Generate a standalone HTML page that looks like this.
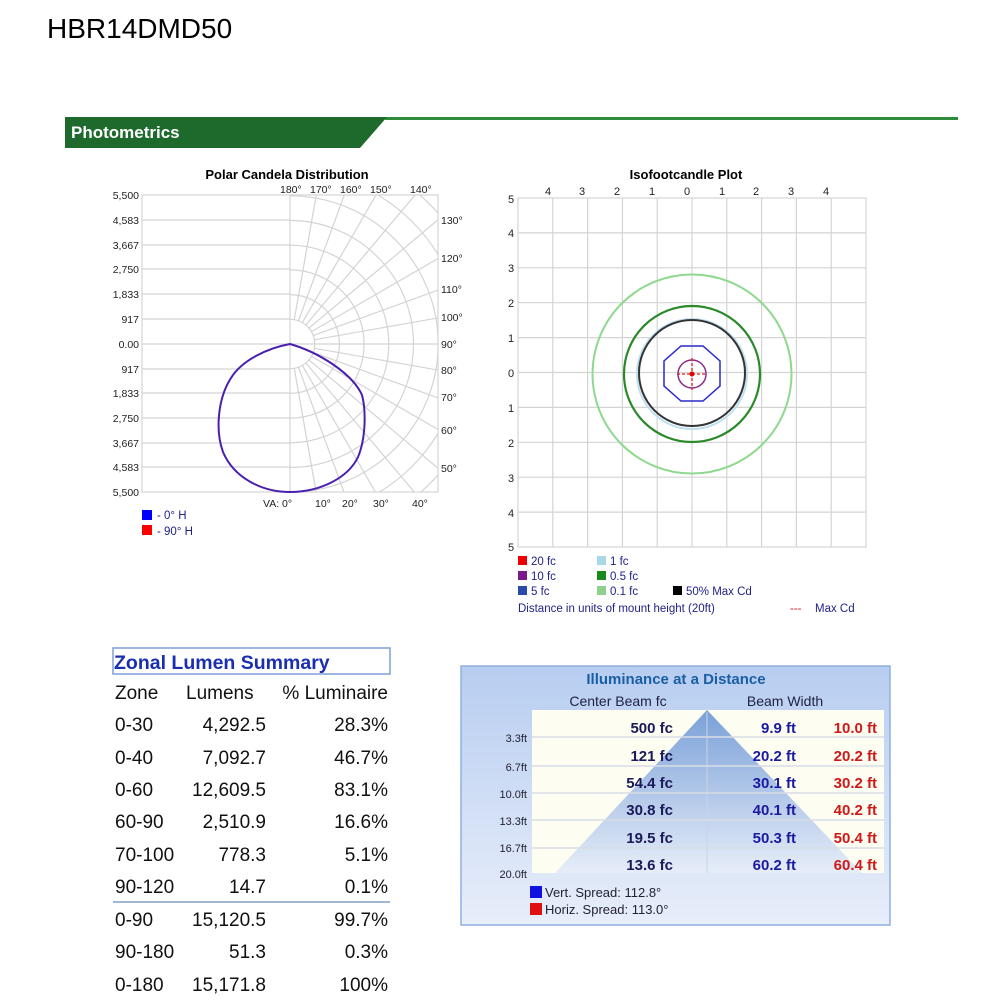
<!DOCTYPE html>
<html><head><meta charset="utf-8"><style>
html,body{margin:0;padding:0;background:#fff;}
svg{display:block;font-family:"Liberation Sans","DejaVu Sans",sans-serif;}
</style></head><body>
<svg width="1000" height="1000" viewBox="0 0 1000 1000" xmlns="http://www.w3.org/2000/svg">
<defs>
<clipPath id="pc"><rect x="290" y="195" width="148" height="297"/></clipPath>
<linearGradient id="bg" x1="0" y1="0" x2="0" y2="1"><stop offset="0" stop-color="#b7cdf0"/><stop offset="1" stop-color="#e8eefa"/></linearGradient>
<linearGradient id="tri" x1="0" y1="0" x2="0" y2="1"><stop offset="0" stop-color="#7aa0d8"/><stop offset="1" stop-color="#e6edf8"/></linearGradient>
</defs>
<text x="47" y="38" font-size="28" fill="#000">HBR14DMD50</text>
<rect x="385" y="117" width="573" height="3" fill="#2e8b3a"/>
<polygon points="65,117 387,117 360,148 65,148" fill="#1d6a2c"/>
<text x="71" y="138" font-size="17" font-weight="bold" fill="#fff">Photometrics</text>

<text x="287" y="179" font-size="13" font-weight="bold" text-anchor="middle">Polar Candela Distribution</text>
<g stroke="#d4d4d4" stroke-width="1.2" fill="none">
<rect x="142" y="195" width="296" height="297"/>
<line x1="142" y1="220" x2="290" y2="220"/><line x1="142" y1="245" x2="290" y2="245"/><line x1="142" y1="269" x2="290" y2="269"/><line x1="142" y1="294" x2="290" y2="294"/><line x1="142" y1="319" x2="290" y2="319"/><line x1="142" y1="344" x2="438" y2="344"/><line x1="142" y1="369" x2="290" y2="369"/><line x1="142" y1="393" x2="290" y2="393"/><line x1="142" y1="418" x2="290" y2="418"/><line x1="142" y1="443" x2="290" y2="443"/><line x1="142" y1="467" x2="290" y2="467"/>
<line x1="290" y1="195" x2="290" y2="492"/>
<g clip-path="url(#pc)">
<circle cx="290" cy="344" r="24.7"/><circle cx="290" cy="344" r="49.4"/><circle cx="290" cy="344" r="74.1"/><circle cx="290" cy="344" r="98.8"/><circle cx="290" cy="344" r="123.5"/><circle cx="290" cy="344" r="148.2"/><circle cx="290" cy="344" r="172.9"/><circle cx="290" cy="344" r="197.6"/>
<line x1="294.3" y1="368.6" x2="359.5" y2="737.9"/><line x1="298.6" y1="367.5" x2="426.8" y2="719.9"/><line x1="302.5" y1="365.7" x2="490" y2="690.4"/><line x1="306.1" y1="363.2" x2="547.1" y2="650.4"/><line x1="309.2" y1="360.1" x2="596.4" y2="601.1"/><line x1="311.7" y1="356.5" x2="636.4" y2="544"/><line x1="313.5" y1="352.6" x2="665.9" y2="480.8"/><line x1="314.6" y1="348.3" x2="683.9" y2="413.4"/><line x1="314.6" y1="339.7" x2="683.9" y2="274.6"/><line x1="313.5" y1="335.4" x2="665.9" y2="207.2"/><line x1="311.7" y1="331.5" x2="636.4" y2="144"/><line x1="309.2" y1="327.9" x2="596.4" y2="86.9"/><line x1="306.1" y1="324.8" x2="547.1" y2="37.6"/><line x1="302.5" y1="322.3" x2="490" y2="-2.4"/><line x1="298.6" y1="320.5" x2="426.8" y2="-31.9"/><line x1="294.3" y1="319.4" x2="359.5" y2="-49.9"/>
</g>
</g>
<g font-size="10.5" text-anchor="end" fill="#222">
<text x="139" y="199">5,500</text><text x="139" y="224">4,583</text><text x="139" y="249">3,667</text><text x="139" y="273">2,750</text><text x="139" y="298">1,833</text><text x="139" y="323">917</text><text x="139" y="348">0.00</text><text x="139" y="373">917</text><text x="139" y="397">1,833</text><text x="139" y="422">2,750</text><text x="139" y="447">3,667</text><text x="139" y="471">4,583</text><text x="139" y="496">5,500</text>
</g>
<g font-size="10.5" fill="#222">
<text x="280" y="193">180°</text><text x="310" y="193">170°</text><text x="340" y="193">160°</text><text x="370" y="193">150°</text><text x="410" y="193">140°</text>
<text x="441" y="224">130°</text><text x="441" y="262">120°</text><text x="441" y="293">110°</text><text x="441" y="321">100°</text><text x="441" y="348">90°</text><text x="441" y="374">80°</text><text x="441" y="401">70°</text><text x="441" y="434">60°</text><text x="441" y="472">50°</text>
<text x="263" y="507">VA: 0°</text><text x="315" y="507">10°</text><text x="342" y="507">20°</text><text x="373" y="507">30°</text><text x="412" y="507">40°</text>
</g>
<path d="M290,344 C268,348 242,360 231,378 C218,398 215,430 223,452 C234,478 262,492 290,492 C320,492 348,478 358,457 C366,438 366,410 362,395 C352,373 318,352 290,344 Z" fill="none" stroke="#4a1fb0" stroke-width="2"/>
<rect x="142" y="510" width="10" height="10" fill="#0000ff"/><text x="157" y="519" font-size="11.5" fill="#22228a">- 0° H</text>
<rect x="142" y="525" width="10" height="10" fill="#ff0000"/><text x="157" y="535" font-size="11.5" fill="#22228a">- 90° H</text>

<text x="686" y="179" font-size="13" font-weight="bold" text-anchor="middle">Isofootcandle Plot</text>
<g stroke="#d4d4d4" stroke-width="1.2">
<rect x="518" y="198" width="348" height="349" fill="none"/>
<line x1="552.8" y1="198" x2="552.8" y2="547"/><line x1="587.6" y1="198" x2="587.6" y2="547"/><line x1="622.4" y1="198" x2="622.4" y2="547"/><line x1="657.2" y1="198" x2="657.2" y2="547"/><line x1="692" y1="198" x2="692" y2="547"/><line x1="726.8" y1="198" x2="726.8" y2="547"/><line x1="761.6" y1="198" x2="761.6" y2="547"/><line x1="796.4" y1="198" x2="796.4" y2="547"/><line x1="831.2" y1="198" x2="831.2" y2="547"/>
<line x1="518" y1="232.9" x2="866" y2="232.9"/><line x1="518" y1="267.8" x2="866" y2="267.8"/><line x1="518" y1="302.7" x2="866" y2="302.7"/><line x1="518" y1="337.6" x2="866" y2="337.6"/><line x1="518" y1="372.5" x2="866" y2="372.5"/><line x1="518" y1="407.4" x2="866" y2="407.4"/><line x1="518" y1="442.3" x2="866" y2="442.3"/><line x1="518" y1="477.2" x2="866" y2="477.2"/><line x1="518" y1="512.1" x2="866" y2="512.1"/>
</g>
<g font-size="11" fill="#222" text-anchor="middle">
<text x="548" y="195">4</text><text x="582" y="195">3</text><text x="617" y="195">2</text><text x="652" y="195">1</text><text x="687" y="195">0</text><text x="722" y="195">1</text><text x="756" y="195">2</text><text x="791" y="195">3</text><text x="826" y="195">4</text>
<text x="511" y="203">5</text><text x="511" y="237">4</text><text x="511" y="272">3</text><text x="511" y="307">2</text><text x="511" y="342">1</text><text x="511" y="377">0</text><text x="511" y="412">1</text><text x="511" y="447">2</text><text x="511" y="482">3</text><text x="511" y="517">4</text><text x="511" y="551">5</text>
</g>
<circle cx="692" cy="374" r="99.5" fill="none" stroke="#8fd88f" stroke-width="2"/>
<circle cx="692" cy="374" r="68" fill="none" stroke="#2a8a2a" stroke-width="2.2"/>
<circle cx="692" cy="374" r="55" fill="none" stroke="#bfe0ef" stroke-width="2"/>
<circle cx="692" cy="373" r="53" fill="none" stroke="#333" stroke-width="2"/>
<polygon points="681,346 703,346 720,361 720,386 703,401 681,401 664,386 664,361" fill="none" stroke="#2a2acc" stroke-width="1.5"/>
<circle cx="692" cy="374" r="14" fill="none" stroke="#8a2a8a" stroke-width="1.5"/>
<g stroke="#e02020" stroke-width="1.3" stroke-dasharray="3,2"><line x1="677" y1="374" x2="707" y2="374"/><line x1="692" y1="358" x2="692" y2="390"/></g>
<circle cx="692" cy="374" r="2.5" fill="#e00000"/>
<g font-size="11.5" fill="#22228a">
<rect x="518" y="556" width="9" height="9" fill="#ee0000"/><text x="531" y="565">20 fc</text>
<rect x="518" y="571" width="9" height="9" fill="#7a1a8a"/><text x="531" y="580">10 fc</text>
<rect x="518" y="586" width="9" height="9" fill="#2a4aa8"/><text x="531" y="595">5 fc</text>
<rect x="597" y="556" width="9" height="9" fill="#a8d8e8"/><text x="610" y="565">1 fc</text>
<rect x="597" y="571" width="9" height="9" fill="#1a8a1a"/><text x="610" y="580">0.5 fc</text>
<rect x="597" y="586" width="9" height="9" fill="#8fd08f"/><text x="610" y="595">0.1 fc</text>
<rect x="673" y="586" width="9" height="9" fill="#000"/><text x="686" y="595">50% Max Cd</text>
<text x="518" y="612">Distance in units of mount height (20ft)</text>
<text x="790" y="612" fill="#d02020">---</text><text x="815" y="612">Max Cd</text>
</g>

<rect x="113" y="648" width="277" height="26" fill="none" stroke="#7f9fd8" stroke-width="1.5"/>
<text x="114" y="669" font-size="19.5" font-weight="bold" fill="#1a2fb0">Zonal Lumen Summary</text>
<g font-size="19" fill="#111">
<text x="115" y="699">Zone</text><text x="186" y="699">Lumens</text><text x="388" y="699" text-anchor="end">% Luminaire</text>
<text x="115" y="731">0-30</text><text x="266" y="731" text-anchor="end">4,292.5</text><text x="388" y="731" text-anchor="end">28.3%</text>
<text x="115" y="764">0-40</text><text x="266" y="764" text-anchor="end">7,092.7</text><text x="388" y="764" text-anchor="end">46.7%</text>
<text x="115" y="796">0-60</text><text x="266" y="796" text-anchor="end">12,609.5</text><text x="388" y="796" text-anchor="end">83.1%</text>
<text x="115" y="828">60-90</text><text x="266" y="828" text-anchor="end">2,510.9</text><text x="388" y="828" text-anchor="end">16.6%</text>
<text x="115" y="861">70-100</text><text x="266" y="861" text-anchor="end">778.3</text><text x="388" y="861" text-anchor="end">5.1%</text>
<text x="115" y="893">90-120</text><text x="266" y="893" text-anchor="end">14.7</text><text x="388" y="893" text-anchor="end">0.1%</text>
<text x="115" y="926">0-90</text><text x="266" y="926" text-anchor="end">15,120.5</text><text x="388" y="926" text-anchor="end">99.7%</text>
<text x="115" y="958">90-180</text><text x="266" y="958" text-anchor="end">51.3</text><text x="388" y="958" text-anchor="end">0.3%</text>
<text x="115" y="991">0-180</text><text x="266" y="991" text-anchor="end">15,171.8</text><text x="388" y="991" text-anchor="end">100%</text>
</g>
<rect x="113" y="901" width="277" height="2" fill="#9fb8d8"/>

<rect x="461" y="666" width="429" height="259" fill="url(#bg)" stroke="#8fb0e0" stroke-width="1.5"/>
<rect x="532" y="710" width="352" height="163" fill="#fdfdf2"/>
<polygon points="707,710 555,873 862,873" fill="url(#tri)"/>
<line x1="707" y1="712" x2="707" y2="873" stroke="#c8d4e8" stroke-width="1"/>
<g stroke="#d8dce4" stroke-width="1.5"><line x1="532" y1="737" x2="884" y2="737"/><line x1="532" y1="766" x2="884" y2="766"/><line x1="532" y1="793" x2="884" y2="793"/><line x1="532" y1="820" x2="884" y2="820"/><line x1="532" y1="848" x2="884" y2="848"/></g>
<text x="676" y="684" font-size="15" font-weight="bold" fill="#1a5fa6" text-anchor="middle">Illuminance at a Distance</text>
<text x="618" y="706" font-size="14" fill="#224" text-anchor="middle">Center Beam fc</text>
<text x="785" y="706" font-size="14" fill="#224" text-anchor="middle">Beam Width</text>
<g font-size="11" fill="#223" text-anchor="end">
<text x="527" y="742">3.3ft</text><text x="527" y="771">6.7ft</text><text x="527" y="798">10.0ft</text><text x="527" y="825">13.3ft</text><text x="527" y="852">16.7ft</text><text x="527" y="878">20.0ft</text>
</g>
<g font-size="15" font-weight="bold" text-anchor="end">
<g fill="#1a1a5a"><text x="673" y="733">500 fc</text><text x="673" y="761">121 fc</text><text x="673" y="788">54.4 fc</text><text x="673" y="815">30.8 fc</text><text x="673" y="843">19.5 fc</text><text x="673" y="870">13.6 fc</text></g>
<g fill="#1a1aa0"><text x="796" y="733">9.9 ft</text><text x="796" y="761">20.2 ft</text><text x="796" y="788">30.1 ft</text><text x="796" y="815">40.1 ft</text><text x="796" y="843">50.3 ft</text><text x="796" y="870">60.2 ft</text></g>
<g fill="#d01818"><text x="877" y="733">10.0 ft</text><text x="877" y="761">20.2 ft</text><text x="877" y="788">30.2 ft</text><text x="877" y="815">40.2 ft</text><text x="877" y="843">50.4 ft</text><text x="877" y="870">60.4 ft</text></g>
</g>
<rect x="530" y="886" width="12" height="12" fill="#1010e0"/><text x="545" y="897" font-size="13" fill="#223">Vert.  Spread: 112.8°</text>
<rect x="530" y="903" width="12" height="12" fill="#e01010"/><text x="545" y="914" font-size="13" fill="#223">Horiz. Spread: 113.0°</text>
</svg>
</body></html>
